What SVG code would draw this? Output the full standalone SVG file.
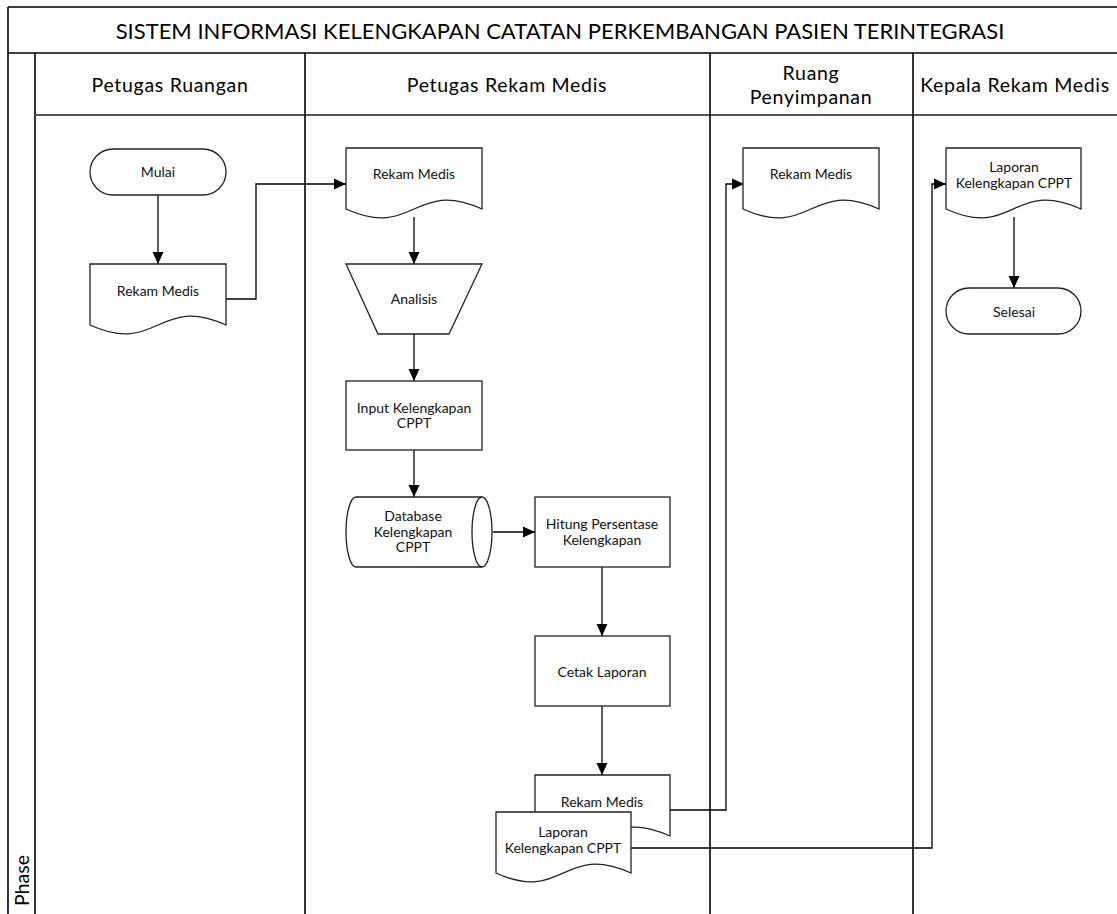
<svg xmlns="http://www.w3.org/2000/svg" width="1117" height="914" viewBox="0 0 1117 914">
  <style>
    .frame { stroke: #000; stroke-width: 1.6; fill: none; }
    .hdrline { stroke: #555; stroke-width: 2.2; fill: none; }
    .shape { fill: #fff; stroke: #222; stroke-width: 1.3; }
    .conn { fill: none; stroke: #000; stroke-width: 1.3; }
    .title { font-family: Lato, "Liberation Sans", sans-serif; font-size: 22px; fill: #000; text-anchor: middle; }
    .lane { font-family: Lato, "Liberation Sans", sans-serif; font-size: 19.5px; letter-spacing: 0.7px; fill: #000; text-anchor: middle; }
    .phase { font-family: Lato, "Liberation Sans", sans-serif; font-size: 19.5px; fill: #000; }
    .lbl { font-family: Lato, "Liberation Sans", sans-serif; font-size: 14px; fill: #111; text-anchor: middle; }
  </style>
  <defs>
    <marker id="arrow" markerUnits="userSpaceOnUse" markerWidth="12" markerHeight="12" viewBox="0 0 12 12" refX="12" refY="6" orient="auto">
      <path d="M0,0.5 L12,6 L0,11.5 Z" fill="#000"/>
    </marker>
  </defs>

  <rect width="1117" height="914" fill="#fff"/>

  <!-- pool frame, title band and swimlanes -->
  <g id="pool">
    <line class="frame" x1="8" y1="7" x2="1117" y2="7"/>
    <line class="frame" x1="8" y1="7" x2="8" y2="914"/>
    <line class="frame" x1="8" y1="53" x2="1117" y2="53"/>
    <line class="frame" x1="35" y1="53" x2="35" y2="914"/>
    <line class="hdrline" x1="35" y1="115" x2="1117" y2="115"/>
    <line class="frame" x1="305" y1="53" x2="305" y2="914"/>
    <line class="frame" x1="710" y1="53" x2="710" y2="914"/>
    <line class="frame" x1="913" y1="53" x2="913" y2="914"/>
    <text class="title" x="560" y="39">SISTEM INFORMASI KELENGKAPAN CATATAN PERKEMBANGAN PASIEN TERINTEGRASI</text>
    <text class="lane" x="170" y="92">Petugas Ruangan</text>
    <text class="lane" x="507" y="92">Petugas Rekam Medis</text>
    <text class="lane" x="811" y="80">Ruang</text>
    <text class="lane" x="811" y="104">Penyimpanan</text>
    <text class="lane" x="1015" y="92">Kepala Rekam Medis</text>
    <text class="phase" transform="translate(29,906) rotate(-90)">Phase</text>
  </g>

  <!-- connectors -->
  <g id="connectors">
    <path class="conn" d="M158,195 V264" marker-end="url(#arrow)"/>
    <path class="conn" d="M226,299 H256 V184 H346" marker-end="url(#arrow)"/>
    <path class="conn" d="M414,217 V264" marker-end="url(#arrow)"/>
    <path class="conn" d="M414,334 V381" marker-end="url(#arrow)"/>
    <path class="conn" d="M414,450 V497" marker-end="url(#arrow)"/>
    <path class="conn" d="M493,532 H535" marker-end="url(#arrow)"/>
    <path class="conn" d="M602,567 V636" marker-end="url(#arrow)"/>
    <path class="conn" d="M602,706 V775" marker-end="url(#arrow)"/>
    <path class="conn" d="M670,810 H726 V184 H744" marker-end="url(#arrow)"/>
    <path class="conn" d="M631,848 H932 V184 H946" marker-end="url(#arrow)"/>
    <path class="conn" d="M1014,217 V288" marker-end="url(#arrow)"/>
  </g>

  <!-- Petugas Ruangan -->
  <g id="mulai">
    <rect class="shape" x="90" y="149" width="136" height="46" rx="23" ry="23"/>
    <text class="lbl" x="158" y="177">Mulai</text>
  </g>
  <g id="rekam-medis-ruangan">
    <path class="shape" d="M90,264 H226 V325 C158,294 158,356 90,325 Z"/>
    <text class="lbl" x="158" y="296">Rekam Medis</text>
  </g>

  <!-- Petugas Rekam Medis -->
  <g id="rekam-medis-rm">
    <path class="shape" d="M346,148 H482 V209 C414,178 414,240 346,209 Z"/>
    <text class="lbl" x="414" y="179">Rekam Medis</text>
  </g>
  <g id="analisis">
    <path class="shape" d="M346,264 H482 L449,334 H378 Z"/>
    <text class="lbl" x="414" y="304">Analisis</text>
  </g>
  <g id="input-kelengkapan">
    <rect class="shape" x="346" y="381" width="136" height="69"/>
    <text class="lbl" x="414" y="413">Input Kelengkapan</text>
    <text class="lbl" x="414" y="428">CPPT</text>
  </g>
  <g id="database">
    <path class="shape" d="M356,497 H482 A10,35 0 0 1 482,567 H356 A10,35 0 0 1 356,497 Z"/>
    <path class="shape" d="M482,497 A10,35 0 0 0 482,567" fill="none"/>
    <text class="lbl" x="413" y="521">Database</text>
    <text class="lbl" x="413" y="537">Kelengkapan</text>
    <text class="lbl" x="413" y="552">CPPT</text>
  </g>
  <g id="hitung-persentase">
    <rect class="shape" x="535" y="497" width="135" height="70"/>
    <text class="lbl" x="602" y="529">Hitung Persentase</text>
    <text class="lbl" x="602" y="545">Kelengkapan</text>
  </g>
  <g id="cetak-laporan">
    <rect class="shape" x="535" y="636" width="135" height="70"/>
    <text class="lbl" x="602" y="677">Cetak Laporan</text>
  </g>
  <g id="rekam-medis-cetak">
    <path class="shape" d="M535,775 H670 V836 C602,805 602,867 535,836 Z"/>
    <text class="lbl" x="602" y="807">Rekam Medis</text>
  </g>
  <g id="laporan-cetak">
    <path class="shape" d="M496,812 H631 V873 C563,842 563,904 496,873 Z"/>
    <text class="lbl" x="563" y="837">Laporan</text>
    <text class="lbl" x="563" y="853">Kelengkapan CPPT</text>
  </g>

  <!-- Ruang Penyimpanan -->
  <g id="rekam-medis-simpan">
    <path class="shape" d="M743,148 H879 V209 C811,178 811,240 743,209 Z"/>
    <text class="lbl" x="811" y="179">Rekam Medis</text>
  </g>

  <!-- Kepala Rekam Medis -->
  <g id="laporan-kepala">
    <path class="shape" d="M946,148 H1081 V209 C1013,178 1013,240 946,209 Z"/>
    <text class="lbl" x="1014" y="172">Laporan</text>
    <text class="lbl" x="1014" y="188">Kelengkapan CPPT</text>
  </g>
  <g id="selesai">
    <rect class="shape" x="946" y="288" width="135" height="46" rx="23" ry="23"/>
    <text class="lbl" x="1014" y="317">Selesai</text>
  </g>
</svg>
